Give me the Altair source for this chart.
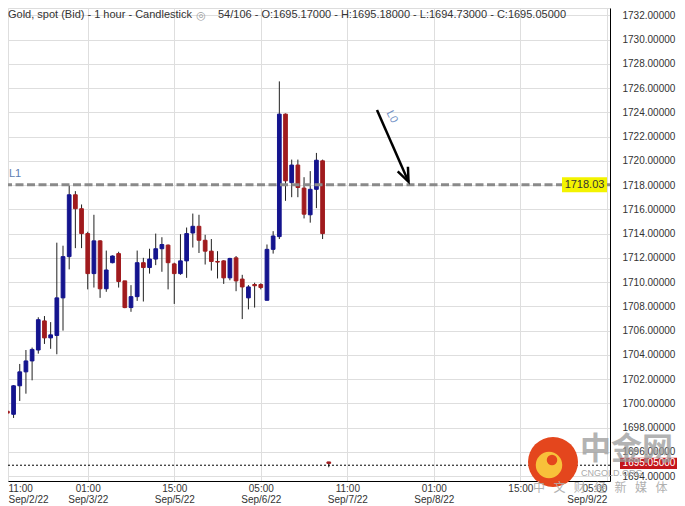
import altair as alt
import pandas as pd
import numpy as np

# ---------------- data ----------------
candle_index = list(range(54))
opens = [1698.6, 1699.35, 1699.1, 1701.45, 1702.6, 1703.5, 1704.4, 1706.8, 1705.4, 1705.6,
         1708.7, 1712.1, 1717.2, 1716.05, 1714.0, 1710.7, 1713.4, 1709.45, 1711.6, 1712.35,
         1710.1, 1707.9, 1708.8, 1711.6, 1711.2, 1711.9, 1712.75, 1713.05, 1711.5, 1710.7,
         1711.75, 1714.05, 1714.6, 1713.45, 1712.55, 1711.7, 1711.75, 1710.35, 1712.0, 1710.25,
         1708.7, 1709.8, 1709.8, 1708.5, 1712.7, 1713.75, 1723.85, 1718.2, 1719.65, 1717.75,
         1715.55, 1717.65, 1720.0, 1695.17]
highs = [1700.2, 1699.8, 1701.5, 1703.25, 1704.4, 1704.6, 1707.1, 1707.2, 1706.7, 1713.25,
         1713.0, 1717.95, 1717.5, 1716.4, 1714.15, 1715.55, 1713.45, 1712.6, 1712.2, 1712.5,
         1710.1, 1709.75, 1712.6, 1712.0, 1712.75, 1714.0, 1713.7, 1713.1, 1711.6, 1713.95,
         1714.5, 1715.65, 1715.55, 1713.9, 1713.55, 1712.55, 1711.8, 1712.0, 1712.15, 1710.6,
         1709.75, 1709.95, 1709.9, 1713.1, 1714.2, 1726.55, 1723.9, 1720.1, 1720.1, 1718.65,
         1719.15, 1720.65, 1720.1, 1695.18]
lows = [1698.1, 1698.5, 1698.8, 1700.2, 1700.8, 1701.9, 1704.1, 1704.9, 1704.5, 1704.05,
        1706.0, 1711.05, 1712.8, 1712.8, 1709.4, 1709.55, 1708.7, 1709.2, 1711.55, 1709.55,
        1707.85, 1707.55, 1708.45, 1708.4, 1710.7, 1711.4, 1710.85, 1709.4, 1708.2, 1710.6,
        1710.35, 1712.85, 1712.4, 1711.45, 1710.95, 1710.3, 1709.85, 1710.15, 1709.25, 1706.95,
        1707.75, 1707.9, 1709.4, 1708.5, 1712.35, 1713.55, 1716.7, 1717.0, 1717.0, 1715.25,
        1714.9, 1716.1, 1713.55, 1694.73]
closes = [1699.4, 1699.2, 1701.45, 1702.6, 1703.5, 1704.45, 1706.9, 1705.4, 1705.65, 1708.7,
          1712.1, 1717.2, 1716.05, 1714.0, 1710.7, 1713.4, 1709.45, 1711.0, 1712.15, 1710.05,
          1707.9, 1708.8, 1711.6, 1711.2, 1711.9, 1712.75, 1713.1, 1711.6, 1710.7, 1711.75,
          1714.0, 1714.6, 1713.45, 1712.55, 1711.7, 1711.65, 1710.35, 1711.95, 1710.1, 1709.6,
          1709.6, 1709.7, 1709.55, 1712.7, 1713.8, 1723.85, 1718.35, 1719.65, 1717.8, 1715.6,
          1717.65, 1720.05, 1714.0, 1695.05]

x_tick_values = [1.1, 14, 28, 42, 56, 70, 84, 98]
x_tick_hours = ["11:00", "01:00", "15:00", "05:00", "11:00", "01:00", "15:00", "05:00"]
x_tick_dates = ["Sep/2/22", "Sep/3/22", "Sep/5/22", "Sep/6/22", "Sep/7/22", "Sep/8/22", "", "Sep/9/22"]
y_tick_values = list(range(1694, 1733, 2))

level_L1 = [1718.03]
last_price = [1695.05]
price_line = [1694.9]
arrow_x = [60.8]
arrow_x2 = [65.9]
arrow_y = [1724.18]
arrow_y2 = [1718.27]
label_L0 = [63.2, 1723.63]

title_main = "Gold, spot (Bid) - 1 hour - Candlestick"
title_ohlc = "54/106 - O:1695.17000 - H:1695.18000 - L:1694.73000 - C:1695.05000"

# ---------------- layout ----------------
W, H = 602, 473
x_dom = [1.1, 98.5]
y_dom = [1693.6, 1732.6]
BLUE = "#14148e"
RED = "#a01b1e"
FONT = "Liberation Sans"

xs = alt.Scale(domain=x_dom, nice=False, zero=False)
ys = alt.Scale(domain=y_dom, nice=False, zero=False)

df = pd.DataFrame(dict(i=candle_index, o=opens, h=highs, l=lows, c=closes))
df["dir"] = np.where(df["c"] >= df["o"], "up", "down")

expr = ""
for v, hh, dd in zip(x_tick_values, x_tick_hours, x_tick_dates):
    lab = f"['{hh}','{dd}']" if dd else f"['{hh}']"
    expr += f"datum.value == {v} ? {lab} : "
expr += "''"

x_axis = alt.Axis(values=x_tick_values, labelExpr=expr, grid=True, gridColor="#dedede",
                  domainColor="#000000", domainWidth=1, ticks=False, labelFontSize=10,
                  labelColor="#333333", labelPadding=2, labelLineHeight=11, labelFlush=8,
                  labelOverlap=False, title=None, labelFont=FONT)
y_axis = alt.Axis(orient="right", values=y_tick_values, format=".5f", grid=True,
                  gridColor="#dedede", domainColor="#000000", domainWidth=1, ticks=False,
                  labelFontSize=10, labelColor="#333333", labelPadding=12,
                  labelOverlap=False, title=None, labelFont=FONT)

dir_scale = alt.Scale(domain=["up", "down"], range=[BLUE, RED])


def X(field):
    return alt.X(field, scale=xs, axis=x_axis)


def Y(field):
    return alt.Y(field, scale=ys, axis=y_axis)


wicks = alt.Chart(df).mark_rule(color="#202020", strokeWidth=1, clip=True).encode(
    x=X("i:Q"), y=Y("l:Q"), y2="h:Q",
)

bodies = alt.Chart(df).transform_calculate(
    x0="datum.i - 0.3", x1="datum.i + 0.3"
).mark_rect(clip=True, strokeWidth=1).encode(
    x=X("x0:Q"), x2="x1:Q", y=Y("o:Q"), y2="c:Q",
    color=alt.Color("dir:N", scale=dir_scale, legend=None),
    stroke=alt.Stroke("dir:N", scale=dir_scale, legend=None),
)

one = pd.DataFrame({"a": [0]})

dashed = alt.Chart(pd.DataFrame({"y": level_L1})).mark_rule(
    color="#8a8a8a", strokeWidth=3, strokeDash=[8, 3.5]
).encode(y=Y("y:Q"))

dotted = alt.Chart(pd.DataFrame({"y": price_line})).mark_rule(
    color="#000000", strokeWidth=1, strokeDash=[2, 2]
).encode(y=Y("y:Q"))

arrow_df = pd.DataFrame({"x": arrow_x, "x2": arrow_x2, "y": arrow_y, "y2": arrow_y2})
arrow_line = alt.Chart(arrow_df).mark_rule(color="#000000", strokeWidth=2.5).encode(
    x=X("x:Q"), x2="x2:Q", y=Y("y:Q"), y2="y2:Q",
)
arrow_head = alt.Chart(arrow_df).mark_point(
    shape="M -0.4 1 L 0 0 L 0.4 1", filled=False, size=784, angle=156,
    strokeWidth=2.5, color="#000000", opacity=1
).encode(x=X("x2:Q"), y=Y("y2:Q"))

l0_text = alt.Chart(pd.DataFrame({"x": [label_L0[0]], "y": [label_L0[1]], "t": ["L0"]})).mark_text(
    fontSize=11, color="#6f8fc4", angle=63, font=FONT
).encode(x=X("x:Q"), y=Y("y:Q"), text="t:N")

l1_text = alt.Chart(pd.DataFrame({"y": [level_L1[0] + 0.9], "t": ["L1"]})).mark_text(
    fontSize=11, color="#5b7db1", align="left", baseline="middle", font=FONT
).encode(x=alt.value(1), y=Y("y:Q"), text="t:N")

ybox_df = pd.DataFrame({"y": [level_L1[0] + 0.62], "y2": [level_L1[0] - 0.62],
                        "yc": level_L1, "t": [f"{level_L1[0]:.2f}"]})
ybox = alt.Chart(ybox_df).mark_rect(color="#f3f300").encode(
    x=alt.value(554), x2=alt.value(599), y=Y("y:Q"), y2="y2:Q",
)
ybox_text = alt.Chart(ybox_df).mark_text(
    fontSize=11, color="#333333", baseline="middle", font=FONT
).encode(x=alt.value(576.5), y=Y("yc:Q"), text="t:N")

rbox_df = pd.DataFrame({"y": [last_price[0] + 0.47], "y2": [last_price[0] - 0.47],
                        "yc": last_price, "t": [f"{last_price[0]:.5f}"]})
rbox = alt.Chart(rbox_df).mark_rect(color="#c4161c").encode(
    x=alt.value(612), x2=alt.value(669), y=Y("y:Q"), y2="y2:Q",
)
rbox_text = alt.Chart(rbox_df).mark_text(
    fontSize=10, color="#ffffff", baseline="middle", font=FONT
).encode(x=alt.value(641), y=Y("yc:Q"), text="t:N")

title1 = alt.Chart(one).mark_text(
    text=title_main, fontSize=11, color="#333333", align="left", baseline="top", font=FONT
).encode(x=alt.value(0), y=alt.value(1))
eye = alt.Chart(one).mark_text(
    text="◎", fontSize=11, color="#a0a0a0", align="center", baseline="top", font="DejaVu Sans"
).encode(x=alt.value(193), y=alt.value(2))
title2 = alt.Chart(one).mark_text(
    text=title_ohlc, fontSize=11, color="#333333", align="left", baseline="top", font=FONT
).encode(x=alt.value(210), y=alt.value(1))

# watermark
logo = alt.Chart(one).mark_point(shape="circle", filled=True, size=2500, color="#e4461d", opacity=1).encode(
    x=alt.value(545), y=alt.value(454))
logo2 = alt.Chart(one).mark_point(shape="circle", filled=True, size=700, color="#f8c13a", opacity=1).encode(
    x=alt.value(541), y=alt.value(457))
logo3 = alt.Chart(one).mark_point(shape="circle", filled=True, size=110, color="#e4461d", opacity=1).encode(
    x=alt.value(544), y=alt.value(452))
wm1 = alt.Chart(one).mark_text(
    text="中金网", fontSize=31, fontWeight="bold", color="#9a9a9a", opacity=0.75,
    align="left", baseline="middle", font="Noto Sans CJK SC"
).encode(x=alt.value(572), y=alt.value(442))
wm2 = alt.Chart(one).mark_text(
    text="CNGOLD.ORG", fontSize=9, color="#aaaaaa", align="left", baseline="middle", font=FONT
).encode(x=alt.value(573), y=alt.value(465))
SP = "\u2002\u2009"
wm3 = alt.Chart(one).mark_text(
    text=SP.join("中文财经新媒体"), fontSize=12, color="#b0b0b0", align="left",
    baseline="middle", font="Noto Sans CJK SC"
).encode(x=alt.value(525), y=alt.value(480))

chart = alt.layer(
    wicks, bodies, dashed, dotted, arrow_line, arrow_head, l0_text, l1_text,
    ybox, ybox_text, rbox, rbox_text, title1, eye, title2,
    logo, logo2, logo3, wm1, wm2, wm3,
).properties(
    width=W, height=H,
    autosize=alt.AutoSizeParams(type="none"),
    padding={"left": 0, "top": 0, "right": 67, "bottom": 25},
    background="#ffffff",
).configure_view(strokeWidth=0).configure(font=FONT)

chart.save("out.html", embed_options={"renderer": "svg", "actions": False})
